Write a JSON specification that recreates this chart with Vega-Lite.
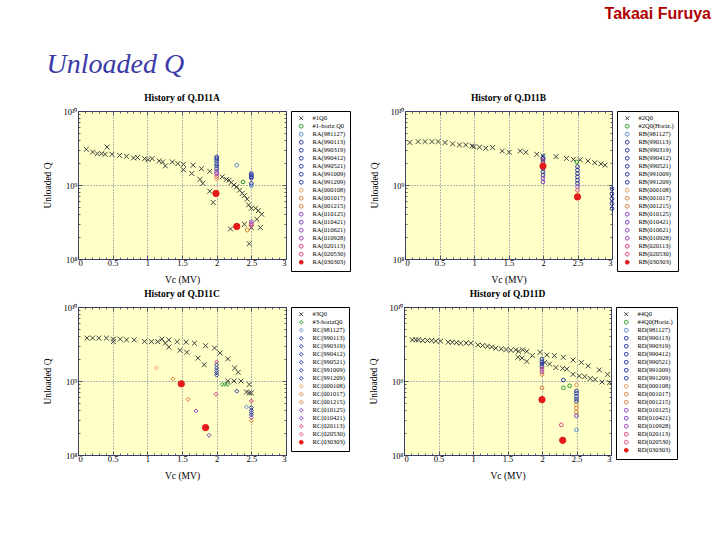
{
"$schema": "https://vega.github.io/schema/vega-lite/v6.json",
"background": "white",
"padding": {"left": 42, "top": 6, "right": 5, "bottom": 5},
"title": {"text": "Takaai Furuya", "anchor": "end", "frame": "bounds", "font": "Liberation Sans", "fontSize": 16, "fontWeight": "bold", "color": "#b00000", "dx": 32, "offset": 29},
"datasets": {
"A": [
{"s":"#1Q0","v":0.12,"q":3.03e9},{"s":"#1Q0","v":0.21,"q":2.79e9},{"s":"#1Q0","v":0.28,"q":2.65e9},{"s":"#1Q0","v":0.34,"q":2.65e9},{"s":"#1Q0","v":0.39,"q":2.6e9},{"s":"#1Q0","v":0.42,"q":3.25e9},{"s":"#1Q0","v":0.49,"q":2.6e9},{"s":"#1Q0","v":0.6,"q":2.51e9},{"s":"#1Q0","v":0.7,"q":2.44e9},{"s":"#1Q0","v":0.8,"q":2.32e9},{"s":"#1Q0","v":0.86,"q":2.35e9},{"s":"#1Q0","v":0.96,"q":2.27e9},{"s":"#1Q0","v":1.01,"q":2.2e9},{"s":"#1Q0","v":1.07,"q":2.27e9},{"s":"#1Q0","v":1.17,"q":2.11e9},{"s":"#1Q0","v":1.22,"q":2.05e9},{"s":"#1Q0","v":1.26,"q":1.81e9},{"s":"#1Q0","v":1.36,"q":2.05e9},{"s":"#1Q0","v":1.44,"q":1.95e9},{"s":"#1Q0","v":1.52,"q":1.9e9},{"s":"#1Q0","v":1.52,"q":1.61e9},{"s":"#1Q0","v":1.64,"q":1.43e9},{"s":"#1Q0","v":1.66,"q":1.85e9},{"s":"#1Q0","v":1.76,"q":1.19e9},{"s":"#1Q0","v":1.78,"q":1.66e9},{"s":"#1Q0","v":1.8,"q":1.05e9},{"s":"#1Q0","v":1.9,"q":1.53e9},{"s":"#1Q0","v":1.9,"q":8.26e8},{"s":"#1Q0","v":1.95,"q":5.82e8},{"s":"#1Q0","v":2.08,"q":1.29e9},{"s":"#1Q0","v":2.14,"q":1.19e9},{"s":"#1Q0","v":2.18,"q":1.16e9},{"s":"#1Q0","v":2.21,"q":1.08e9},{"s":"#1Q0","v":2.25,"q":1.0e9},{"s":"#1Q0","v":2.29,"q":9.45e8},{"s":"#1Q0","v":2.33,"q":8.5e8},{"s":"#1Q0","v":2.37,"q":7.7e8},{"s":"#1Q0","v":2.4,"q":7.2e8},{"s":"#1Q0","v":2.44,"q":6.46e8},{"s":"#1Q0","v":2.46,"q":5.37e8},{"s":"#1Q0","v":2.5,"q":4.84e8},{"s":"#1Q0","v":2.56,"q":4.84e8},{"s":"#1Q0","v":2.6,"q":4.5e8},{"s":"#1Q0","v":2.65,"q":4.02e8},{"s":"#1Q0","v":2.58,"q":3.44e8},{"s":"#1Q0","v":2.4,"q":2.95e8},{"s":"#1Q0","v":2.5,"q":2.66e8},{"s":"#1Q0","v":2.63,"q":2.66e8},{"s":"#1Q0","v":2.2,"q":2.55e8},{"s":"#1Q0","v":2.47,"q":1.61e8},
{"s":"#1-horiz Q0","v":2.38,"q":1.1e9},
{"s":"RA(981127)","v":2.29,"q":1.85e9},{"s":"RA(981127)","v":2.5,"q":9.8e8},
{"s":"RA(990113)","v":2.0,"q":2.39e9},{"s":"RA(990319)","v":2.0,"q":2.27e9},{"s":"RA(990412)","v":2.0,"q":2.11e9},{"s":"RA(990521)","v":2.0,"q":1.94e9},{"s":"RA(991009)","v":2.0,"q":1.81e9},{"s":"RA(991209)","v":2.0,"q":1.66e9},{"s":"RA(010125)","v":2.0,"q":1.53e9},{"s":"RA(010421)","v":2.0,"q":1.43e9},{"s":"RA(020113)","v":2.0,"q":1.31e9},{"s":"RA(000108)","v":2.0,"q":1.22e9},
{"s":"RA(990113)","v":2.5,"q":1.43e9},{"s":"RA(990319)","v":2.5,"q":1.36e9},{"s":"RA(990412)","v":2.5,"q":1.29e9},{"s":"RA(990521)","v":2.5,"q":1.24e9},{"s":"RA(991009)","v":2.5,"q":1.05e9},{"s":"RA(010621)","v":2.5,"q":3.2e8},{"s":"RA(010928)","v":2.5,"q":3.0e8},{"s":"RA(020530)","v":2.5,"q":2.83e8},{"s":"RA(001017)","v":2.44,"q":2.46e8},
{"s":"RA(030303)","v":1.99,"q":7.7e8},{"s":"RA(030303)","v":2.29,"q":2.75e8}
],
"B": [
{"s":"#2Q0","v":0.07,"q":3.75e9},{"s":"#2Q0","v":0.19,"q":3.86e9},{"s":"#2Q0","v":0.29,"q":3.86e9},{"s":"#2Q0","v":0.39,"q":3.86e9},{"s":"#2Q0","v":0.48,"q":3.86e9},{"s":"#2Q0","v":0.58,"q":3.75e9},{"s":"#2Q0","v":0.69,"q":3.6e9},{"s":"#2Q0","v":0.79,"q":3.48e9},{"s":"#2Q0","v":0.88,"q":3.48e9},{"s":"#2Q0","v":0.97,"q":3.37e9},{"s":"#2Q0","v":1.0,"q":3.3e9},{"s":"#2Q0","v":1.08,"q":3.24e9},{"s":"#2Q0","v":1.17,"q":3.14e9},{"s":"#2Q0","v":1.27,"q":3.2e9},{"s":"#2Q0","v":1.41,"q":2.88e9},{"s":"#2Q0","v":1.51,"q":2.77e9},{"s":"#2Q0","v":1.67,"q":2.88e9},{"s":"#2Q0","v":1.75,"q":2.77e9},{"s":"#2Q0","v":1.91,"q":2.6e9},{"s":"#2Q0","v":2.0,"q":2.47e9},{"s":"#2Q0","v":2.19,"q":2.42e9},{"s":"#2Q0","v":2.34,"q":2.29e9},{"s":"#2Q0","v":2.44,"q":2.22e9},{"s":"#2Q0","v":2.54,"q":2.19e9},{"s":"#2Q0","v":2.65,"q":2.11e9},{"s":"#2Q0","v":2.75,"q":2.0e9},{"s":"#2Q0","v":2.84,"q":1.93e9},{"s":"#2Q0","v":2.9,"q":1.86e9},
{"s":"#2Q0(Horiz.)","v":2.49,"q":2.05e9},
{"s":"RB(981127)","v":2.0,"q":2.44e9},{"s":"RB(020113)","v":2.0,"q":2.2e9},{"s":"RB(990113)","v":2.0,"q":2.29e9},{"s":"RB(990319)","v":2.0,"q":2.06e9},{"s":"RB(990412)","v":2.0,"q":1.86e9},{"s":"RB(990521)","v":2.0,"q":1.68e9},{"s":"RB(991009)","v":2.0,"q":1.51e9},{"s":"RB(991209)","v":2.0,"q":1.36e9},{"s":"RB(010125)","v":2.0,"q":1.23e9},{"s":"RB(010421)","v":2.0,"q":1.1e9},
{"s":"RB(990113)","v":2.5,"q":1.77e9},{"s":"RB(990319)","v":2.5,"q":1.59e9},{"s":"RB(990412)","v":2.5,"q":1.43e9},{"s":"RB(990521)","v":2.5,"q":1.29e9},{"s":"RB(991009)","v":2.5,"q":1.16e9},{"s":"RB(991209)","v":2.5,"q":1.05e9},{"s":"RB(010621)","v":2.5,"q":9.5e8},{"s":"RB(020530)","v":2.5,"q":8.5e8},{"s":"RB(000108)","v":2.5,"q":7.4e8},
{"s":"RB(990113)","v":3.0,"q":8.9e8},{"s":"RB(990319)","v":3.0,"q":7.6e8},{"s":"RB(990412)","v":3.0,"q":6.5e8},{"s":"RB(990521)","v":3.0,"q":5.6e8},{"s":"RB(991009)","v":3.0,"q":4.8e8},
{"s":"RB(030303)","v":2.0,"q":1.8e9},{"s":"RB(030303)","v":2.5,"q":6.9e8}
],
"C": [
{"s":"#3Q0","v":0.13,"q":3.8e9},{"s":"#3Q0","v":0.21,"q":3.8e9},{"s":"#3Q0","v":0.3,"q":3.8e9},{"s":"#3Q0","v":0.41,"q":3.8e9},{"s":"#3Q0","v":0.51,"q":3.68e9},{"s":"#3Q0","v":0.51,"q":3.4e9},{"s":"#3Q0","v":0.61,"q":3.68e9},{"s":"#3Q0","v":0.7,"q":3.6e9},{"s":"#3Q0","v":0.81,"q":3.6e9},{"s":"#3Q0","v":0.96,"q":3.43e9},{"s":"#3Q0","v":1.06,"q":3.4e9},{"s":"#3Q0","v":1.15,"q":3.4e9},{"s":"#3Q0","v":1.21,"q":3.68e9},{"s":"#3Q0","v":1.26,"q":3.25e9},{"s":"#3Q0","v":1.31,"q":3.6e9},{"s":"#3Q0","v":1.31,"q":2.88e9},{"s":"#3Q0","v":1.43,"q":3.4e9},{"s":"#3Q0","v":1.47,"q":2.6e9},{"s":"#3Q0","v":1.56,"q":3.35e9},{"s":"#3Q0","v":1.57,"q":2.44e9},{"s":"#3Q0","v":1.68,"q":3.24e9},{"s":"#3Q0","v":1.73,"q":2.04e9},{"s":"#3Q0","v":1.82,"q":1.66e9},{"s":"#3Q0","v":1.84,"q":3.0e9},{"s":"#3Q0","v":1.97,"q":2.79e9},{"s":"#3Q0","v":2.05,"q":2.39e9},{"s":"#3Q0","v":2.16,"q":1.99e9},{"s":"#3Q0","v":2.26,"q":1.5e9},{"s":"#3Q0","v":2.31,"q":1.31e9},{"s":"#3Q0","v":2.16,"q":1.0e9},{"s":"#3Q0","v":2.25,"q":1.0e9},{"s":"#3Q0","v":2.35,"q":1.0e9},{"s":"#3Q0","v":2.47,"q":8.97e8},{"s":"#3Q0","v":2.43,"q":7.1e8},{"s":"#3Q0","v":2.47,"q":6.9e8},{"s":"#3Q0","v":2.5,"q":6.9e8},
{"s":"#3-horizQ0","v":2.08,"q":9.0e8},{"s":"#3-horizQ0","v":2.12,"q":9.0e8},{"s":"#3-horizQ0","v":2.16,"q":9.0e8},
{"s":"RC(000108)","v":1.13,"q":1.5e9},{"s":"RC(001017)","v":1.37,"q":1.07e9},{"s":"RC(001215)","v":1.59,"q":5.65e8},{"s":"RC(010125)","v":1.7,"q":3.94e8},{"s":"RC(020113)","v":1.99,"q":6.6e8},{"s":"RC(010421)","v":1.89,"q":1.85e8},
{"s":"RC(020530)","v":2.0,"q":1.81e9},{"s":"RC(991009)","v":2.0,"q":1.66e9},{"s":"RC(990113)","v":2.0,"q":1.5e9},{"s":"RC(990319)","v":2.0,"q":1.38e9},{"s":"RC(990412)","v":2.0,"q":1.29e9},{"s":"RC(990521)","v":2.0,"q":1.2e9},
{"s":"RC(991209)","v":2.29,"q":7.3e8},
{"s":"RC(990113)","v":2.5,"q":4.37e8},{"s":"RC(990319)","v":2.5,"q":4.02e8},{"s":"RC(990412)","v":2.5,"q":3.74e8},{"s":"RC(990521)","v":2.5,"q":3.48e8},{"s":"RC(020113)","v":2.5,"q":5.37e8},{"s":"RC(010125)","v":2.5,"q":3.2e8},{"s":"RC(001017)","v":2.5,"q":2.9e8},{"s":"RC(981127)","v":2.43,"q":4.47e8},
{"s":"RC(030303)","v":1.49,"q":9.16e8},{"s":"RC(030303)","v":1.84,"q":2.35e8}
],
"D": [
{"s":"#4Q0","v":0.12,"q":3.6e9},{"s":"#4Q0","v":0.17,"q":3.6e9},{"s":"#4Q0","v":0.21,"q":3.6e9},{"s":"#4Q0","v":0.27,"q":3.53e9},{"s":"#4Q0","v":0.34,"q":3.53e9},{"s":"#4Q0","v":0.4,"q":3.53e9},{"s":"#4Q0","v":0.46,"q":3.46e9},{"s":"#4Q0","v":0.53,"q":3.46e9},{"s":"#4Q0","v":0.64,"q":3.35e9},{"s":"#4Q0","v":0.7,"q":3.35e9},{"s":"#4Q0","v":0.76,"q":3.3e9},{"s":"#4Q0","v":0.82,"q":3.24e9},{"s":"#4Q0","v":0.9,"q":3.26e9},{"s":"#4Q0","v":0.97,"q":3.24e9},{"s":"#4Q0","v":1.07,"q":3.08e9},{"s":"#4Q0","v":1.14,"q":3.02e9},{"s":"#4Q0","v":1.21,"q":2.95e9},{"s":"#4Q0","v":1.27,"q":2.88e9},{"s":"#4Q0","v":1.33,"q":2.77e9},{"s":"#4Q0","v":1.41,"q":2.72e9},{"s":"#4Q0","v":1.48,"q":2.66e9},{"s":"#4Q0","v":1.55,"q":2.6e9},{"s":"#4Q0","v":1.62,"q":2.64e9},{"s":"#4Q0","v":1.66,"q":2.52e9},{"s":"#4Q0","v":1.72,"q":2.64e9},{"s":"#4Q0","v":1.78,"q":2.52e9},{"s":"#4Q0","v":1.65,"q":2.09e9},{"s":"#4Q0","v":1.71,"q":2.04e9},{"s":"#4Q0","v":1.78,"q":1.84e9},{"s":"#4Q0","v":1.86,"q":2.2e9},{"s":"#4Q0","v":1.97,"q":2.44e9},{"s":"#4Q0","v":2.07,"q":2.25e9},{"s":"#4Q0","v":2.18,"q":2.2e9},{"s":"#4Q0","v":2.31,"q":2.09e9},{"s":"#4Q0","v":2.45,"q":1.92e9},{"s":"#4Q0","v":2.57,"q":1.78e9},{"s":"#4Q0","v":2.67,"q":1.6e9},{"s":"#4Q0","v":2.83,"q":1.41e9},{"s":"#4Q0","v":2.95,"q":1.23e9},{"s":"#4Q0","v":2.04,"q":1.78e9},{"s":"#4Q0","v":2.11,"q":1.69e9},{"s":"#4Q0","v":2.2,"q":1.52e9},{"s":"#4Q0","v":2.3,"q":1.48e9},{"s":"#4Q0","v":2.36,"q":1.45e9},{"s":"#4Q0","v":2.45,"q":1.23e9},{"s":"#4Q0","v":2.54,"q":1.17e9},{"s":"#4Q0","v":2.62,"q":1.15e9},{"s":"#4Q0","v":2.7,"q":1.08e9},{"s":"#4Q0","v":2.77,"q":1.05e9},{"s":"#4Q0","v":2.87,"q":9.7e8},{"s":"#4Q0","v":2.98,"q":9.5e8},
{"s":"#4Q0(Horiz.)","v":2.31,"q":8.1e8},{"s":"#4Q0(Horiz.)","v":2.4,"q":8.6e8},
{"s":"RD(991209)","v":2.31,"q":1.03e9},{"s":"RD(000108)","v":2.5,"q":8.8e8},
{"s":"RD(990113)","v":2.0,"q":1.98e9},{"s":"RD(990319)","v":2.0,"q":1.82e9},{"s":"RD(990412)","v":2.0,"q":1.69e9},{"s":"RD(990521)","v":2.0,"q":1.57e9},{"s":"RD(020113)","v":2.0,"q":1.44e9},{"s":"RD(010125)","v":2.0,"q":1.34e9},{"s":"RD(001017)","v":2.0,"q":1.23e9},{"s":"RD(001215)","v":2.0,"q":8.1e8},
{"s":"RD(990113)","v":2.5,"q":7.3e8},{"s":"RD(990319)","v":2.5,"q":6.8e8},{"s":"RD(990412)","v":2.5,"q":6.2e8},{"s":"RD(990521)","v":2.5,"q":5.7e8},{"s":"RD(991009)","v":2.5,"q":5.3e8},{"s":"RD(000108)","v":2.5,"q":4.8e8},{"s":"RD(001017)","v":2.5,"q":4.3e8},{"s":"RD(001215)","v":2.5,"q":3.76e8},{"s":"RD(010421)","v":2.5,"q":3.39e8},{"s":"RD(981127)","v":2.5,"q":2.18e8},
{"s":"RD(020530)","v":2.28,"q":2.55e8},
{"s":"RD(030303)","v":2.0,"q":5.6e8},{"s":"RD(030303)","v":2.3,"q":1.58e8}
]
},
"vconcat": [
{
"title": {"text": "Unloaded Q", "anchor": "start", "frame": "bounds", "font": "Liberation Serif", "fontStyle": "italic", "fontWeight": "normal", "fontSize": 28, "color": "#3a3aa8", "offset": 13, "dx": 4},
"spacing": 18,
"resolve": {"scale": {"stroke": "independent", "fill": "independent", "shape": "independent", "x": "independent", "y": "independent"}, "legend": {"stroke": "independent", "fill": "independent", "shape": "independent"}},
"hconcat": [
{
"width": 208, "height": 148,
"title": {"text": "History of Q.D11A"},
"data": {"name": "A"},
"encoding": {
  "stroke": {"field": "s", "type": "nominal", "title": null, "scale": {"domain": ["#1Q0","#1-horiz Q0","RA(981127)","RA(990113)","RA(990319)","RA(990412)","RA(990521)","RA(991009)","RA(991209)","RA(000108)","RA(001017)","RA(001215)","RA(010125)","RA(010421)","RA(010621)","RA(010928)","RA(020113)","RA(020530)","RA(030303)"], "range": ["#404040","#2f9a2f","#5c8cd0","#2a38a0","#2a38a0","#2a38a0","#2a38a0","#2a38a0","#2a38a0","#e8a060","#e0823c","#d87a40","#8a46c8","#7a3cc0","#9048c8","#9a40b0","#d83a78","#e04a80","#e41a1a"]}, "legend": {"title": null, "encode": {"symbols": {"update": {"size": {"signal": "indexof(datum.value,'(03')>0 ? 40 : (indexof(datum.value,'#')==0 && indexof(datum.value,'oriz')<0) ? 20 : 12"}}}, "labels": {"update": {"fill": {"signal": "indexof(datum.value,'#')==0 ? (indexof(datum.value,'oriz')>0 ? '#2f9a2f' : '#333333') : indexof(datum.value,'(98')>0 ? '#5c8cd0' : indexof(datum.value,'(99')>0 ? '#2a38a0' : indexof(datum.value,'(00')>0 ? '#e0823c' : indexof(datum.value,'(01')>0 ? '#8a46c8' : indexof(datum.value,'(02')>0 ? '#d83a78' : '#e41a1a'"}}}}}},
  "fill": {"field": "s", "type": "nominal", "title": null, "scale": {"domain": ["#1Q0","#1-horiz Q0","RA(981127)","RA(990113)","RA(990319)","RA(990412)","RA(990521)","RA(991009)","RA(991209)","RA(000108)","RA(001017)","RA(001215)","RA(010125)","RA(010421)","RA(010621)","RA(010928)","RA(020113)","RA(020530)","RA(030303)"], "range": ["transparent","transparent","transparent","transparent","transparent","transparent","transparent","transparent","transparent","transparent","transparent","transparent","transparent","transparent","transparent","transparent","transparent","transparent","#e41a1a"]}},
  "shape": {"field": "s", "type": "nominal", "title": null, "scale": {"domain": ["#1Q0","#1-horiz Q0","RA(981127)","RA(990113)","RA(990319)","RA(990412)","RA(990521)","RA(991009)","RA(991209)","RA(000108)","RA(001017)","RA(001215)","RA(010125)","RA(010421)","RA(010621)","RA(010928)","RA(020113)","RA(020530)","RA(030303)"], "range": ["M-1,-1L1,1M-1,1L1,-1","circle","circle","circle","circle","circle","circle","circle","circle","circle","circle","circle","circle","circle","circle","circle","circle","circle","circle"]}}
},
"layer": [
{"mark": {"type": "point", "opacity": 0},
 "encoding": {
  "stroke": null, "fill": null, "shape": null,
  "x": {"field": "v", "type": "quantitative", "scale": {"domain": [0,3], "nice": false, "zero": false}, "axis": {"orient": "top", "title": null, "labels": false, "grid": false, "values": [0,0.1,0.2,0.3,0.4,0.5,0.6,0.7,0.8,0.9,1,1.1,1.2,1.3,1.4,1.5,1.6,1.7,1.8,1.9,2,2.1,2.2,2.3,2.4,2.5,2.6,2.7,2.8,2.9,3], "tickSize": {"condition": {"test": "abs(datum.value*2-round(datum.value*2))<0.01", "value": -4}, "value": -2}}},
  "y": {"field": "q", "type": "quantitative", "scale": {"type": "log", "domain": [1e8,1e10], "nice": false}, "axis": {"orient": "right", "title": null, "labels": false, "grid": false, "values": [1e8,2e8,3e8,4e8,5e8,6e8,7e8,8e8,9e8,1e9,2e9,3e9,4e9,5e9,6e9,7e9,8e9,9e9,1e10], "tickSize": {"condition": {"test": "datum.value==1e8||datum.value==1e9||datum.value==1e10", "value": -4}, "value": -2}}}
 }},
{"transform": [{"filter": "indexof(datum.s,'#')==0 && indexof(datum.s,'oriz')<0"}],
 "mark": {"type": "point", "opacity": 1, "strokeWidth": 1, "size": 24},
 "encoding": {
  "x": {"field": "v", "type": "quantitative", "scale": {"domain": [0,3], "nice": false, "zero": false}, "axis": {"orient": "bottom", "title": "Vc (MV)", "titlePadding": 8, "grid": true, "values": [0,0.1,0.2,0.3,0.4,0.5,0.6,0.7,0.8,0.9,1,1.1,1.2,1.3,1.4,1.5,1.6,1.7,1.8,1.9,2,2.1,2.2,2.3,2.4,2.5,2.6,2.7,2.8,2.9,3], "labelExpr": "abs(datum.value*2-round(datum.value*2))<0.01 ? ''+datum.value : ''", "tickSize": {"condition": {"test": "abs(datum.value*2-round(datum.value*2))<0.01", "value": -4}, "value": -2}, "gridOpacity": {"condition": {"test": "abs(datum.value*2-round(datum.value*2))<0.01 && datum.value>0.01 && datum.value<2.99", "value": 1}, "value": 0}}},
  "y": {"field": "q", "type": "quantitative", "scale": {"type": "log", "domain": [1e8,1e10], "nice": false}, "axis": {"orient": "left", "title": "Unloaded Q", "titlePadding": 10, "labelPadding": 5, "grid": true, "values": [1e8,2e8,3e8,4e8,5e8,6e8,7e8,8e8,9e8,1e9,2e9,3e9,4e9,5e9,6e9,7e9,8e9,9e9,1e10], "labelExpr": "datum.value==1e10 ? '10¹⁰' : datum.value==1e9 ? '10⁹' : datum.value==1e8 ? '10⁸' : ''", "tickSize": {"condition": {"test": "datum.value==1e8||datum.value==1e9||datum.value==1e10", "value": -4}, "value": -2}, "gridOpacity": {"condition": {"test": "datum.value==1e9", "value": 1}, "value": 0}}}
 }},
{"transform": [{"filter": "(indexof(datum.s,'#')!=0 || indexof(datum.s,'oriz')>0) && indexof(datum.s,'(03')<0"}],
 "mark": {"type": "point", "opacity": 1, "strokeWidth": 1, "size": 14},
 "encoding": {
  "x": {"field": "v", "type": "quantitative", "axis": null},
  "y": {"field": "q", "type": "quantitative", "axis": null}
 }},
{"transform": [{"filter": "indexof(datum.s,'(03')>0"}],
 "mark": {"type": "point", "opacity": 1, "strokeWidth": 1, "size": 40},
 "encoding": {
  "x": {"field": "v", "type": "quantitative", "axis": null},
  "y": {"field": "q", "type": "quantitative", "axis": null}
 }}
],
"resolve": {"axis": {"x": "independent", "y": "independent"}}
},
{
"width": 207, "height": 148,
"title": {"text": "History of Q.D11B"},
"data": {"name": "B"},
"encoding": {
  "stroke": {"field": "s", "type": "nominal", "title": null, "scale": {"domain": ["#2Q0","#2Q0(Horiz.)","RB(981127)","RB(990113)","RB(990319)","RB(990412)","RB(990521)","RB(991009)","RB(991209)","RB(000108)","RB(001017)","RB(001215)","RB(010125)","RB(010421)","RB(010621)","RB(010928)","RB(020113)","RB(020530)","RB(030303)"], "range": ["#404040","#2f9a2f","#5c8cd0","#2a38a0","#2a38a0","#2a38a0","#2a38a0","#2a38a0","#2a38a0","#e8a060","#e0823c","#d87a40","#8a46c8","#7a3cc0","#9048c8","#9a40b0","#d83a78","#e04a80","#e41a1a"]}, "legend": {"title": null, "encode": {"symbols": {"update": {"size": {"signal": "indexof(datum.value,'(03')>0 ? 40 : (indexof(datum.value,'#')==0 && indexof(datum.value,'oriz')<0) ? 20 : 12"}}}, "labels": {"update": {"fill": {"signal": "indexof(datum.value,'#')==0 ? (indexof(datum.value,'oriz')>0 ? '#2f9a2f' : '#333333') : indexof(datum.value,'(98')>0 ? '#5c8cd0' : indexof(datum.value,'(99')>0 ? '#2a38a0' : indexof(datum.value,'(00')>0 ? '#e0823c' : indexof(datum.value,'(01')>0 ? '#8a46c8' : indexof(datum.value,'(02')>0 ? '#d83a78' : '#e41a1a'"}}}}}},
  "fill": {"field": "s", "type": "nominal", "title": null, "scale": {"domain": ["#2Q0","#2Q0(Horiz.)","RB(981127)","RB(990113)","RB(990319)","RB(990412)","RB(990521)","RB(991009)","RB(991209)","RB(000108)","RB(001017)","RB(001215)","RB(010125)","RB(010421)","RB(010621)","RB(010928)","RB(020113)","RB(020530)","RB(030303)"], "range": ["transparent","transparent","transparent","transparent","transparent","transparent","transparent","transparent","transparent","transparent","transparent","transparent","transparent","transparent","transparent","transparent","transparent","transparent","#e41a1a"]}},
  "shape": {"field": "s", "type": "nominal", "title": null, "scale": {"domain": ["#2Q0","#2Q0(Horiz.)","RB(981127)","RB(990113)","RB(990319)","RB(990412)","RB(990521)","RB(991009)","RB(991209)","RB(000108)","RB(001017)","RB(001215)","RB(010125)","RB(010421)","RB(010621)","RB(010928)","RB(020113)","RB(020530)","RB(030303)"], "range": ["M-1,-1L1,1M-1,1L1,-1","circle","circle","circle","circle","circle","circle","circle","circle","circle","circle","circle","circle","circle","circle","circle","circle","circle","circle"]}}
},
"layer": [
{"mark": {"type": "point", "opacity": 0},
 "encoding": {
  "stroke": null, "fill": null, "shape": null,
  "x": {"field": "v", "type": "quantitative", "scale": {"domain": [0,3], "nice": false, "zero": false}, "axis": {"orient": "top", "title": null, "labels": false, "grid": false, "values": [0,0.1,0.2,0.3,0.4,0.5,0.6,0.7,0.8,0.9,1,1.1,1.2,1.3,1.4,1.5,1.6,1.7,1.8,1.9,2,2.1,2.2,2.3,2.4,2.5,2.6,2.7,2.8,2.9,3], "tickSize": {"condition": {"test": "abs(datum.value*2-round(datum.value*2))<0.01", "value": -4}, "value": -2}}},
  "y": {"field": "q", "type": "quantitative", "scale": {"type": "log", "domain": [1e8,1e10], "nice": false}, "axis": {"orient": "right", "title": null, "labels": false, "grid": false, "values": [1e8,2e8,3e8,4e8,5e8,6e8,7e8,8e8,9e8,1e9,2e9,3e9,4e9,5e9,6e9,7e9,8e9,9e9,1e10], "tickSize": {"condition": {"test": "datum.value==1e8||datum.value==1e9||datum.value==1e10", "value": -4}, "value": -2}}}
 }},
{"transform": [{"filter": "indexof(datum.s,'#')==0 && indexof(datum.s,'oriz')<0"}],
 "mark": {"type": "point", "opacity": 1, "strokeWidth": 1, "size": 24},
 "encoding": {
  "x": {"field": "v", "type": "quantitative", "scale": {"domain": [0,3], "nice": false, "zero": false}, "axis": {"orient": "bottom", "title": "Vc (MV)", "titlePadding": 8, "grid": true, "values": [0,0.1,0.2,0.3,0.4,0.5,0.6,0.7,0.8,0.9,1,1.1,1.2,1.3,1.4,1.5,1.6,1.7,1.8,1.9,2,2.1,2.2,2.3,2.4,2.5,2.6,2.7,2.8,2.9,3], "labelExpr": "abs(datum.value*2-round(datum.value*2))<0.01 ? ''+datum.value : ''", "tickSize": {"condition": {"test": "abs(datum.value*2-round(datum.value*2))<0.01", "value": -4}, "value": -2}, "gridOpacity": {"condition": {"test": "abs(datum.value*2-round(datum.value*2))<0.01 && datum.value>0.01 && datum.value<2.99", "value": 1}, "value": 0}}},
  "y": {"field": "q", "type": "quantitative", "scale": {"type": "log", "domain": [1e8,1e10], "nice": false}, "axis": {"orient": "left", "title": "Unloaded Q", "titlePadding": 10, "labelPadding": 5, "grid": true, "values": [1e8,2e8,3e8,4e8,5e8,6e8,7e8,8e8,9e8,1e9,2e9,3e9,4e9,5e9,6e9,7e9,8e9,9e9,1e10], "labelExpr": "datum.value==1e10 ? '10¹⁰' : datum.value==1e9 ? '10⁹' : datum.value==1e8 ? '10⁸' : ''", "tickSize": {"condition": {"test": "datum.value==1e8||datum.value==1e9||datum.value==1e10", "value": -4}, "value": -2}, "gridOpacity": {"condition": {"test": "datum.value==1e9", "value": 1}, "value": 0}}}
 }},
{"transform": [{"filter": "(indexof(datum.s,'#')!=0 || indexof(datum.s,'oriz')>0) && indexof(datum.s,'(03')<0"}],
 "mark": {"type": "point", "opacity": 1, "strokeWidth": 1, "size": 14},
 "encoding": {
  "x": {"field": "v", "type": "quantitative", "axis": null},
  "y": {"field": "q", "type": "quantitative", "axis": null}
 }},
{"transform": [{"filter": "indexof(datum.s,'(03')>0"}],
 "mark": {"type": "point", "opacity": 1, "strokeWidth": 1, "size": 40},
 "encoding": {
  "x": {"field": "v", "type": "quantitative", "axis": null},
  "y": {"field": "q", "type": "quantitative", "axis": null}
 }}
],
"resolve": {"axis": {"x": "independent", "y": "independent"}}
}
]
},
{
"spacing": 18,
"resolve": {"scale": {"stroke": "independent", "fill": "independent", "shape": "independent", "x": "independent", "y": "independent"}, "legend": {"stroke": "independent", "fill": "independent", "shape": "independent"}},
"hconcat": [
{
"width": 208, "height": 148,
"title": {"text": "History of Q.D11C"},
"data": {"name": "C"},
"encoding": {
  "stroke": {"field": "s", "type": "nominal", "title": null, "scale": {"domain": ["#3Q0","#3-horizQ0","RC(981127)","RC(990113)","RC(990319)","RC(990412)","RC(990521)","RC(991009)","RC(991209)","RC(000108)","RC(001017)","RC(001215)","RC(010125)","RC(010421)","RC(020113)","RC(020530)","RC(030303)"], "range": ["#404040","#2f9a2f","#5c8cd0","#2a38a0","#2a38a0","#2a38a0","#2a38a0","#2a38a0","#2a38a0","#e8a060","#e0823c","#d87a40","#8a46c8","#7a3cc0","#d83a78","#e04a80","#e41a1a"]}, "legend": {"title": null, "encode": {"symbols": {"update": {"size": {"signal": "indexof(datum.value,'(03')>0 ? 40 : (indexof(datum.value,'#')==0 && indexof(datum.value,'oriz')<0) ? 20 : 14"}}}, "labels": {"update": {"fill": {"signal": "indexof(datum.value,'#')==0 ? (indexof(datum.value,'oriz')>0 ? '#2f9a2f' : '#333333') : indexof(datum.value,'(98')>0 ? '#5c8cd0' : indexof(datum.value,'(99')>0 ? '#2a38a0' : indexof(datum.value,'(00')>0 ? '#e0823c' : indexof(datum.value,'(01')>0 ? '#8a46c8' : indexof(datum.value,'(02')>0 ? '#d83a78' : '#e41a1a'"}}}}}},
  "fill": {"field": "s", "type": "nominal", "title": null, "scale": {"domain": ["#3Q0","#3-horizQ0","RC(981127)","RC(990113)","RC(990319)","RC(990412)","RC(990521)","RC(991009)","RC(991209)","RC(000108)","RC(001017)","RC(001215)","RC(010125)","RC(010421)","RC(020113)","RC(020530)","RC(030303)"], "range": ["transparent","transparent","transparent","transparent","transparent","transparent","transparent","transparent","transparent","transparent","transparent","transparent","transparent","transparent","transparent","transparent","#e41a1a"]}},
  "shape": {"field": "s", "type": "nominal", "title": null, "scale": {"domain": ["#3Q0","#3-horizQ0","RC(981127)","RC(990113)","RC(990319)","RC(990412)","RC(990521)","RC(991009)","RC(991209)","RC(000108)","RC(001017)","RC(001215)","RC(010125)","RC(010421)","RC(020113)","RC(020530)","RC(030303)"], "range": ["M-1,-1L1,1M-1,1L1,-1","diamond","diamond","diamond","diamond","diamond","diamond","diamond","diamond","diamond","diamond","diamond","diamond","diamond","diamond","diamond","circle"]}}
},
"layer": [
{"mark": {"type": "point", "opacity": 0},
 "encoding": {
  "stroke": null, "fill": null, "shape": null,
  "x": {"field": "v", "type": "quantitative", "scale": {"domain": [0,3], "nice": false, "zero": false}, "axis": {"orient": "top", "title": null, "labels": false, "grid": false, "values": [0,0.1,0.2,0.3,0.4,0.5,0.6,0.7,0.8,0.9,1,1.1,1.2,1.3,1.4,1.5,1.6,1.7,1.8,1.9,2,2.1,2.2,2.3,2.4,2.5,2.6,2.7,2.8,2.9,3], "tickSize": {"condition": {"test": "abs(datum.value*2-round(datum.value*2))<0.01", "value": -4}, "value": -2}}},
  "y": {"field": "q", "type": "quantitative", "scale": {"type": "log", "domain": [1e8,1e10], "nice": false}, "axis": {"orient": "right", "title": null, "labels": false, "grid": false, "values": [1e8,2e8,3e8,4e8,5e8,6e8,7e8,8e8,9e8,1e9,2e9,3e9,4e9,5e9,6e9,7e9,8e9,9e9,1e10], "tickSize": {"condition": {"test": "datum.value==1e8||datum.value==1e9||datum.value==1e10", "value": -4}, "value": -2}}}
 }},
{"transform": [{"filter": "indexof(datum.s,'#')==0 && indexof(datum.s,'oriz')<0"}],
 "mark": {"type": "point", "opacity": 1, "strokeWidth": 1, "size": 24},
 "encoding": {
  "x": {"field": "v", "type": "quantitative", "scale": {"domain": [0,3], "nice": false, "zero": false}, "axis": {"orient": "bottom", "title": "Vc (MV)", "titlePadding": 8, "grid": true, "values": [0,0.1,0.2,0.3,0.4,0.5,0.6,0.7,0.8,0.9,1,1.1,1.2,1.3,1.4,1.5,1.6,1.7,1.8,1.9,2,2.1,2.2,2.3,2.4,2.5,2.6,2.7,2.8,2.9,3], "labelExpr": "abs(datum.value*2-round(datum.value*2))<0.01 ? ''+datum.value : ''", "tickSize": {"condition": {"test": "abs(datum.value*2-round(datum.value*2))<0.01", "value": -4}, "value": -2}, "gridOpacity": {"condition": {"test": "abs(datum.value*2-round(datum.value*2))<0.01 && datum.value>0.01 && datum.value<2.99", "value": 1}, "value": 0}}},
  "y": {"field": "q", "type": "quantitative", "scale": {"type": "log", "domain": [1e8,1e10], "nice": false}, "axis": {"orient": "left", "title": "Unloaded Q", "titlePadding": 10, "labelPadding": 5, "grid": true, "values": [1e8,2e8,3e8,4e8,5e8,6e8,7e8,8e8,9e8,1e9,2e9,3e9,4e9,5e9,6e9,7e9,8e9,9e9,1e10], "labelExpr": "datum.value==1e10 ? '10¹⁰' : datum.value==1e9 ? '10⁹' : datum.value==1e8 ? '10⁸' : ''", "tickSize": {"condition": {"test": "datum.value==1e8||datum.value==1e9||datum.value==1e10", "value": -4}, "value": -2}, "gridOpacity": {"condition": {"test": "datum.value==1e9", "value": 1}, "value": 0}}}
 }},
{"transform": [{"filter": "(indexof(datum.s,'#')!=0 || indexof(datum.s,'oriz')>0) && indexof(datum.s,'(03')<0"}],
 "mark": {"type": "point", "opacity": 1, "strokeWidth": 1, "size": 16},
 "encoding": {
  "x": {"field": "v", "type": "quantitative", "axis": null},
  "y": {"field": "q", "type": "quantitative", "axis": null}
 }},
{"transform": [{"filter": "indexof(datum.s,'(03')>0"}],
 "mark": {"type": "point", "opacity": 1, "strokeWidth": 1, "size": 40},
 "encoding": {
  "x": {"field": "v", "type": "quantitative", "axis": null},
  "y": {"field": "q", "type": "quantitative", "axis": null}
 }}
],
"resolve": {"axis": {"x": "independent", "y": "independent"}}
},
{
"width": 207, "height": 148,
"title": {"text": "History of Q.D11D"},
"data": {"name": "D"},
"encoding": {
  "stroke": {"field": "s", "type": "nominal", "title": null, "scale": {"domain": ["#4Q0","#4Q0(Horiz.)","RD(981127)","RD(990113)","RD(990319)","RD(990412)","RD(990521)","RD(991009)","RD(991209)","RD(000108)","RD(001017)","RD(001215)","RD(010125)","RD(010421)","RD(010928)","RD(020113)","RD(020530)","RD(030303)"], "range": ["#404040","#2f9a2f","#5c8cd0","#2a38a0","#2a38a0","#2a38a0","#2a38a0","#2a38a0","#2a38a0","#e8a060","#e0823c","#d87a40","#8a46c8","#7a3cc0","#9a40b0","#d83a78","#e04a80","#e41a1a"]}, "legend": {"title": null, "encode": {"symbols": {"update": {"size": {"signal": "indexof(datum.value,'(03')>0 ? 40 : (indexof(datum.value,'#')==0 && indexof(datum.value,'oriz')<0) ? 20 : 12"}}}, "labels": {"update": {"fill": {"signal": "indexof(datum.value,'#')==0 ? (indexof(datum.value,'oriz')>0 ? '#2f9a2f' : '#333333') : indexof(datum.value,'(98')>0 ? '#5c8cd0' : indexof(datum.value,'(99')>0 ? '#2a38a0' : indexof(datum.value,'(00')>0 ? '#e0823c' : indexof(datum.value,'(01')>0 ? '#8a46c8' : indexof(datum.value,'(02')>0 ? '#d83a78' : '#e41a1a'"}}}}}},
  "fill": {"field": "s", "type": "nominal", "title": null, "scale": {"domain": ["#4Q0","#4Q0(Horiz.)","RD(981127)","RD(990113)","RD(990319)","RD(990412)","RD(990521)","RD(991009)","RD(991209)","RD(000108)","RD(001017)","RD(001215)","RD(010125)","RD(010421)","RD(010928)","RD(020113)","RD(020530)","RD(030303)"], "range": ["transparent","transparent","transparent","transparent","transparent","transparent","transparent","transparent","transparent","transparent","transparent","transparent","transparent","transparent","transparent","transparent","transparent","#e41a1a"]}},
  "shape": {"field": "s", "type": "nominal", "title": null, "scale": {"domain": ["#4Q0","#4Q0(Horiz.)","RD(981127)","RD(990113)","RD(990319)","RD(990412)","RD(990521)","RD(991009)","RD(991209)","RD(000108)","RD(001017)","RD(001215)","RD(010125)","RD(010421)","RD(010928)","RD(020113)","RD(020530)","RD(030303)"], "range": ["M-1,-1L1,1M-1,1L1,-1","circle","circle","circle","circle","circle","circle","circle","circle","circle","circle","circle","circle","circle","circle","circle","circle","circle"]}}
},
"layer": [
{"mark": {"type": "point", "opacity": 0},
 "encoding": {
  "stroke": null, "fill": null, "shape": null,
  "x": {"field": "v", "type": "quantitative", "scale": {"domain": [0,3], "nice": false, "zero": false}, "axis": {"orient": "top", "title": null, "labels": false, "grid": false, "values": [0,0.1,0.2,0.3,0.4,0.5,0.6,0.7,0.8,0.9,1,1.1,1.2,1.3,1.4,1.5,1.6,1.7,1.8,1.9,2,2.1,2.2,2.3,2.4,2.5,2.6,2.7,2.8,2.9,3], "tickSize": {"condition": {"test": "abs(datum.value*2-round(datum.value*2))<0.01", "value": -4}, "value": -2}}},
  "y": {"field": "q", "type": "quantitative", "scale": {"type": "log", "domain": [1e8,1e10], "nice": false}, "axis": {"orient": "right", "title": null, "labels": false, "grid": false, "values": [1e8,2e8,3e8,4e8,5e8,6e8,7e8,8e8,9e8,1e9,2e9,3e9,4e9,5e9,6e9,7e9,8e9,9e9,1e10], "tickSize": {"condition": {"test": "datum.value==1e8||datum.value==1e9||datum.value==1e10", "value": -4}, "value": -2}}}
 }},
{"transform": [{"filter": "indexof(datum.s,'#')==0 && indexof(datum.s,'oriz')<0"}],
 "mark": {"type": "point", "opacity": 1, "strokeWidth": 1, "size": 24},
 "encoding": {
  "x": {"field": "v", "type": "quantitative", "scale": {"domain": [0,3], "nice": false, "zero": false}, "axis": {"orient": "bottom", "title": "Vc (MV)", "titlePadding": 8, "grid": true, "values": [0,0.1,0.2,0.3,0.4,0.5,0.6,0.7,0.8,0.9,1,1.1,1.2,1.3,1.4,1.5,1.6,1.7,1.8,1.9,2,2.1,2.2,2.3,2.4,2.5,2.6,2.7,2.8,2.9,3], "labelExpr": "abs(datum.value*2-round(datum.value*2))<0.01 ? ''+datum.value : ''", "tickSize": {"condition": {"test": "abs(datum.value*2-round(datum.value*2))<0.01", "value": -4}, "value": -2}, "gridOpacity": {"condition": {"test": "abs(datum.value*2-round(datum.value*2))<0.01 && datum.value>0.01 && datum.value<2.99", "value": 1}, "value": 0}}},
  "y": {"field": "q", "type": "quantitative", "scale": {"type": "log", "domain": [1e8,1e10], "nice": false}, "axis": {"orient": "left", "title": "Unloaded Q", "titlePadding": 10, "labelPadding": 5, "grid": true, "values": [1e8,2e8,3e8,4e8,5e8,6e8,7e8,8e8,9e8,1e9,2e9,3e9,4e9,5e9,6e9,7e9,8e9,9e9,1e10], "labelExpr": "datum.value==1e10 ? '10¹⁰' : datum.value==1e9 ? '10⁹' : datum.value==1e8 ? '10⁸' : ''", "tickSize": {"condition": {"test": "datum.value==1e8||datum.value==1e9||datum.value==1e10", "value": -4}, "value": -2}, "gridOpacity": {"condition": {"test": "datum.value==1e9", "value": 1}, "value": 0}}}
 }},
{"transform": [{"filter": "(indexof(datum.s,'#')!=0 || indexof(datum.s,'oriz')>0) && indexof(datum.s,'(03')<0"}],
 "mark": {"type": "point", "opacity": 1, "strokeWidth": 1, "size": 14},
 "encoding": {
  "x": {"field": "v", "type": "quantitative", "axis": null},
  "y": {"field": "q", "type": "quantitative", "axis": null}
 }},
{"transform": [{"filter": "indexof(datum.s,'(03')>0"}],
 "mark": {"type": "point", "opacity": 1, "strokeWidth": 1, "size": 40},
 "encoding": {
  "x": {"field": "v", "type": "quantitative", "axis": null},
  "y": {"field": "q", "type": "quantitative", "axis": null}
 }}
],
"resolve": {"axis": {"x": "independent", "y": "independent"}}
}
]
}
],
"spacing": 3,
"resolve": {"scale": {"stroke": "independent", "fill": "independent", "shape": "independent", "x": "independent", "y": "independent"}, "legend": {"stroke": "independent", "fill": "independent", "shape": "independent"}},
"config": {
"view": {"fill": "#ffffc8", "stroke": "#404070", "strokeWidth": 1},
"axis": {"labelFont": "Liberation Serif", "labelFontSize": 8.5, "labelColor": "#000000", "titleFont": "Liberation Serif", "titleFontSize": 9.5, "titleFontWeight": "normal", "titleColor": "#000000", "domain": false, "tickColor": "#333355", "tickWidth": 0.8, "gridColor": "#6a6aa8", "gridDash": [1,2], "gridWidth": 1, "labelPadding": 3, "titlePadding": 3},
"title": {"font": "Liberation Serif", "fontSize": 9.5, "fontWeight": "bold", "color": "#000000", "offset": 5},
"legend": {"orient": "right", "offset": 4, "padding": 4, "strokeColor": "#000000", "fillColor": "#ffffff", "labelFont": "Liberation Serif", "labelFontSize": 6.5, "rowPadding": -3, "labelOffset": 8, "symbolOffset": 3, "symbolSize": 14, "symbolStrokeWidth": 1, "labelLimit": 60}
}
}
